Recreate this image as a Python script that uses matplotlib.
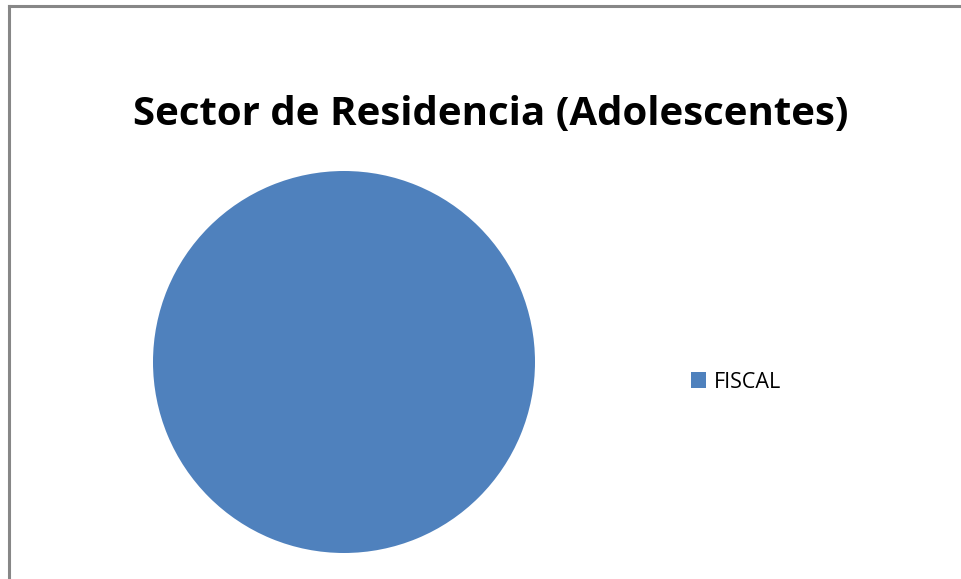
import matplotlib.pyplot as plt
from matplotlib.lines import Line2D

labels = ["FISCAL"]
values = [100]
colors = ["#4F81BD"]
title = "Sector de Residencia (Adolescentes)"

W, H = 961, 579
fig = plt.figure(figsize=(W / 100, H / 100), dpi=100)

# outer chart border (only left and top visible in the crop)
fig.add_artist(Line2D([9 / W, 9 / W], [0, 1 - 6 / H], color="#878787", lw=2.2))
fig.add_artist(Line2D([9 / W, 1], [1 - 6 / H, 1 - 6 / H], color="#878787", lw=2.2))

cx, cy, r = 344, 362, 191
ax = fig.add_axes([(cx - r) / W, 1 - (cy + r) / H, 2 * r / W, 2 * r / H])
wedges, _ = ax.pie(values, colors=colors, startangle=90, radius=1,
                   wedgeprops=dict(linewidth=0))
ax.set_xlim(-1, 1)
ax.set_ylim(-1, 1)
ax.set_aspect("equal")
ax.axis("off")

fig.text(491 / W, 1 - 125 / H, title, ha="center", va="baseline",
         fontsize=29, fontweight="bold", family="Open Sans", color="black")

fig.legend(wedges, labels, loc="center left",
           bbox_to_anchor=(691 / W, 1 - 382 / H), frameon=False,
           borderpad=0, borderaxespad=0,
           handlelength=0.7, handleheight=0.7, handletextpad=0.37,
           prop={"family": "Open Sans", "size": 15.5})

fig.savefig("out.png", dpi=100)
